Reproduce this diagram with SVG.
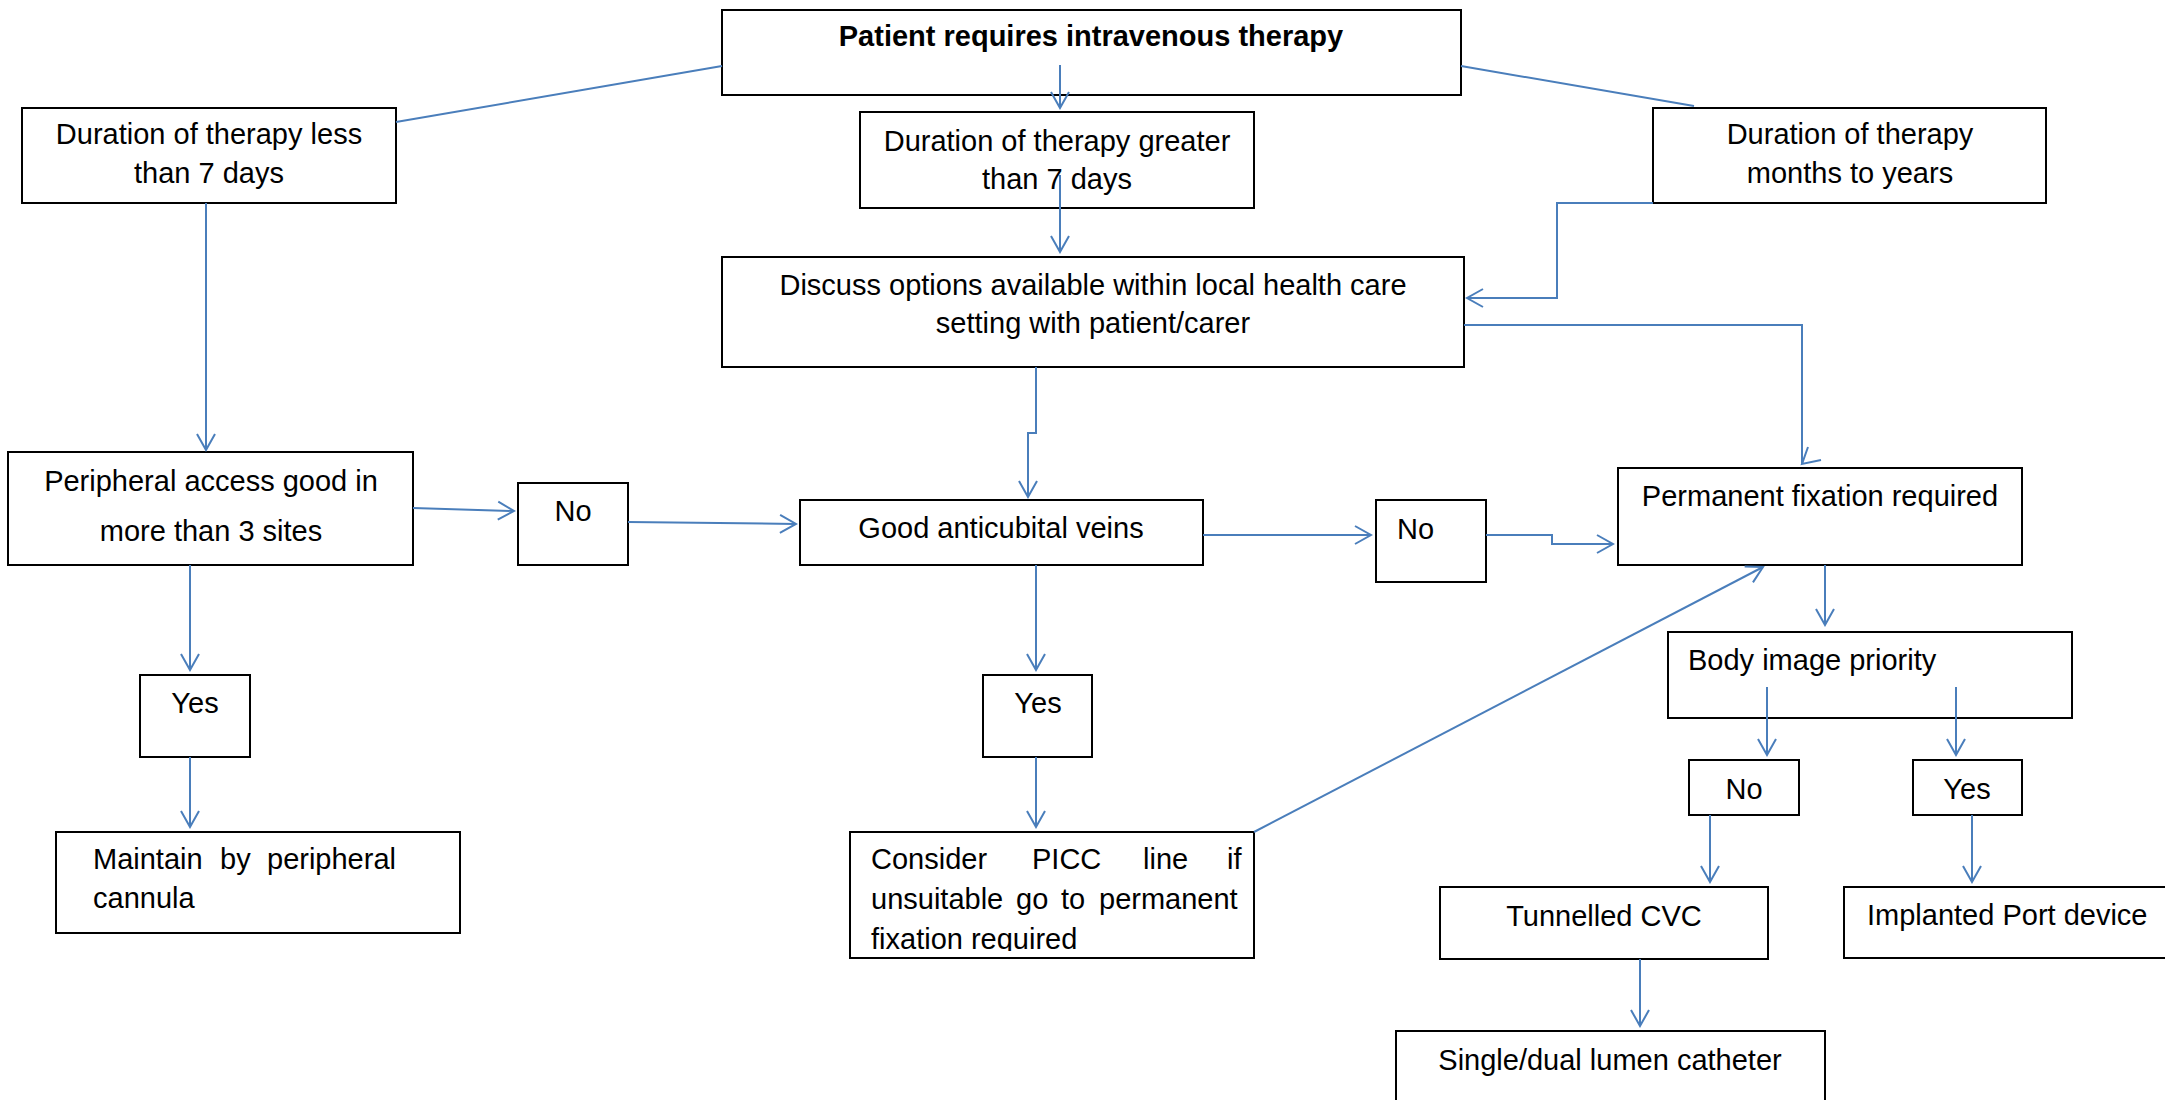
<svg xmlns="http://www.w3.org/2000/svg" width="2165" height="1100" viewBox="0 0 2165 1100">
<defs>
<style>
.box{fill:#fff;stroke:#000;stroke-width:2}
.t{font-family:"Liberation Sans",Arial,sans-serif;font-size:29px;fill:#000}
.c{text-anchor:middle}
.b{font-weight:bold}
.ln{fill:none;stroke:#4A7EBB;stroke-width:2}
</style>
<marker id="ah" viewBox="-18 -11 20 22" refX="0" refY="0" markerWidth="20" markerHeight="22" markerUnits="userSpaceOnUse" orient="auto">
<path d="M-16,-9 L0,0 L-16,9" fill="none" stroke="#4A7EBB" stroke-width="2"/>
</marker>
<clipPath id="clipConsider"><rect x="851" y="833" width="402" height="118"/></clipPath>
</defs>
<rect width="2165" height="1100" fill="#fff"/>

<g id="n-top"><rect class="box" x="722" y="10" width="739" height="85"/><text class="t c b" x="1091" y="46">Patient requires intravenous therapy</text></g>
<g id="n-less"><rect class="box" x="22" y="108" width="374" height="95"/><text class="t c" x="209" y="144">Duration of therapy less</text><text class="t c" x="209" y="183">than 7 days</text></g>
<g id="n-greater"><rect class="box" x="860" y="112" width="394" height="96"/><text class="t c" x="1057" y="151">Duration of therapy greater</text><text class="t c" x="1057" y="189">than 7 days</text></g>
<g id="n-months"><rect class="box" x="1653" y="108" width="393" height="95"/><text class="t c" x="1850" y="144">Duration of therapy</text><text class="t c" x="1850" y="183">months to years</text></g>
<g id="n-discuss"><rect class="box" x="722" y="257" width="742" height="110"/><text class="t c" x="1093" y="295">Discuss options available within local health care</text><text class="t c" x="1093" y="333">setting with patient/carer</text></g>
<g id="n-peripheral"><rect class="box" x="8" y="452" width="405" height="113"/><text class="t c" x="211" y="491">Peripheral access good in</text><text class="t c" x="211" y="541">more than 3 sites</text></g>
<g id="n-no1"><rect class="box" x="518" y="483" width="110" height="82"/><text class="t c" x="573" y="521">No</text></g>
<g id="n-good"><rect class="box" x="800" y="500" width="403" height="65"/><text class="t c" x="1001" y="538">Good anticubital veins</text></g>
<g id="n-no2"><rect class="box" x="1376" y="500" width="110" height="82"/><text class="t" x="1397" y="539">No</text></g>
<g id="n-permanent"><rect class="box" x="1618" y="468" width="404" height="97"/><text class="t c" x="1820" y="506">Permanent fixation required</text></g>
<g id="n-body"><rect class="box" x="1668" y="632" width="404" height="86"/><text class="t" x="1688" y="670">Body image priority</text></g>
<g id="n-no3"><rect class="box" x="1689" y="760" width="110" height="55"/><text class="t c" x="1744" y="799">No</text></g>
<g id="n-yes3"><rect class="box" x="1913" y="760" width="109" height="55"/><text class="t c" x="1967" y="799">Yes</text></g>
<g id="n-tunnelled"><rect class="box" x="1440" y="887" width="328" height="72"/><text class="t c" x="1604" y="926">Tunnelled CVC</text></g>
<g id="n-implanted"><rect class="box" x="1844" y="887" width="330" height="71"/><text class="t" x="1867" y="925">Implanted Port device</text></g>
<g id="n-single"><rect class="box" x="1396" y="1031" width="429" height="90"/><text class="t c" x="1610" y="1070">Single/dual lumen catheter</text></g>
<g id="n-yes1"><rect class="box" x="140" y="675" width="110" height="82"/><text class="t c" x="195" y="713">Yes</text></g>
<g id="n-yes2"><rect class="box" x="983" y="675" width="109" height="82"/><text class="t c" x="1038" y="713">Yes</text></g>
<g id="n-maintain"><rect class="box" x="56" y="832" width="404" height="101"/><text class="t" y="869"><tspan x="93">Maintain</tspan><tspan x="220">by</tspan><tspan x="267">peripheral</tspan></text><text class="t" x="93" y="908">cannula</text></g>
<g id="n-consider"><rect class="box" x="850" y="832" width="404" height="126"/><g clip-path="url(#clipConsider)"><text class="t" y="869"><tspan x="871">Consider</tspan><tspan x="1032">PICC</tspan><tspan x="1143">line</tspan><tspan x="1227">if</tspan></text><text class="t" y="909"><tspan x="871">unsuitable</tspan><tspan x="1016">go</tspan><tspan x="1061">to</tspan><tspan x="1099">permanent</tspan></text><text class="t" x="871" y="949">fixation required</text></g></g>

<g id="connectors">
<path class="ln" d="M722,66 L396,122"/>
<path class="ln" d="M1461,66 L1694,106"/>
<path class="ln" d="M1060,65 L1060,108" marker-end="url(#ah)"/>
<path class="ln" d="M1060,175 L1060,252" marker-end="url(#ah)"/>
<path class="ln" d="M1653,203 L1557,203 L1557,298 L1467,298" marker-end="url(#ah)"/>
<path class="ln" d="M1464,325 L1802,325 L1802,464"/>
<path class="ln" d="M1808,447 L1802,464 L1821,460"/>
<path class="ln" d="M1036,367 L1036,433 L1028,433 L1028,497" marker-end="url(#ah)"/>
<path class="ln" d="M206,203 L206,450" marker-end="url(#ah)"/>
<path class="ln" d="M413,508 L514,511" marker-end="url(#ah)"/>
<path class="ln" d="M628,522 L796,524" marker-end="url(#ah)"/>
<path class="ln" d="M190,565 L190,670" marker-end="url(#ah)"/>
<path class="ln" d="M190,757 L190,827" marker-end="url(#ah)"/>
<path class="ln" d="M1036,565 L1036,670" marker-end="url(#ah)"/>
<path class="ln" d="M1036,757 L1036,827" marker-end="url(#ah)"/>
<path class="ln" d="M1203,535 L1371,535" marker-end="url(#ah)"/>
<path class="ln" d="M1486,535 L1552,535 L1552,544 L1613,544" marker-end="url(#ah)"/>
<path class="ln" d="M1254,832 L1763,567" marker-end="url(#ah)"/>
<path class="ln" d="M1825,565 L1825,625" marker-end="url(#ah)"/>
<path class="ln" d="M1767,687 L1767,755" marker-end="url(#ah)"/>
<path class="ln" d="M1956,687 L1956,755" marker-end="url(#ah)"/>
<path class="ln" d="M1710,815 L1710,882" marker-end="url(#ah)"/>
<path class="ln" d="M1972,815 L1972,882" marker-end="url(#ah)"/>
<path class="ln" d="M1640,959 L1640,1026" marker-end="url(#ah)"/>
</g>
</svg>
